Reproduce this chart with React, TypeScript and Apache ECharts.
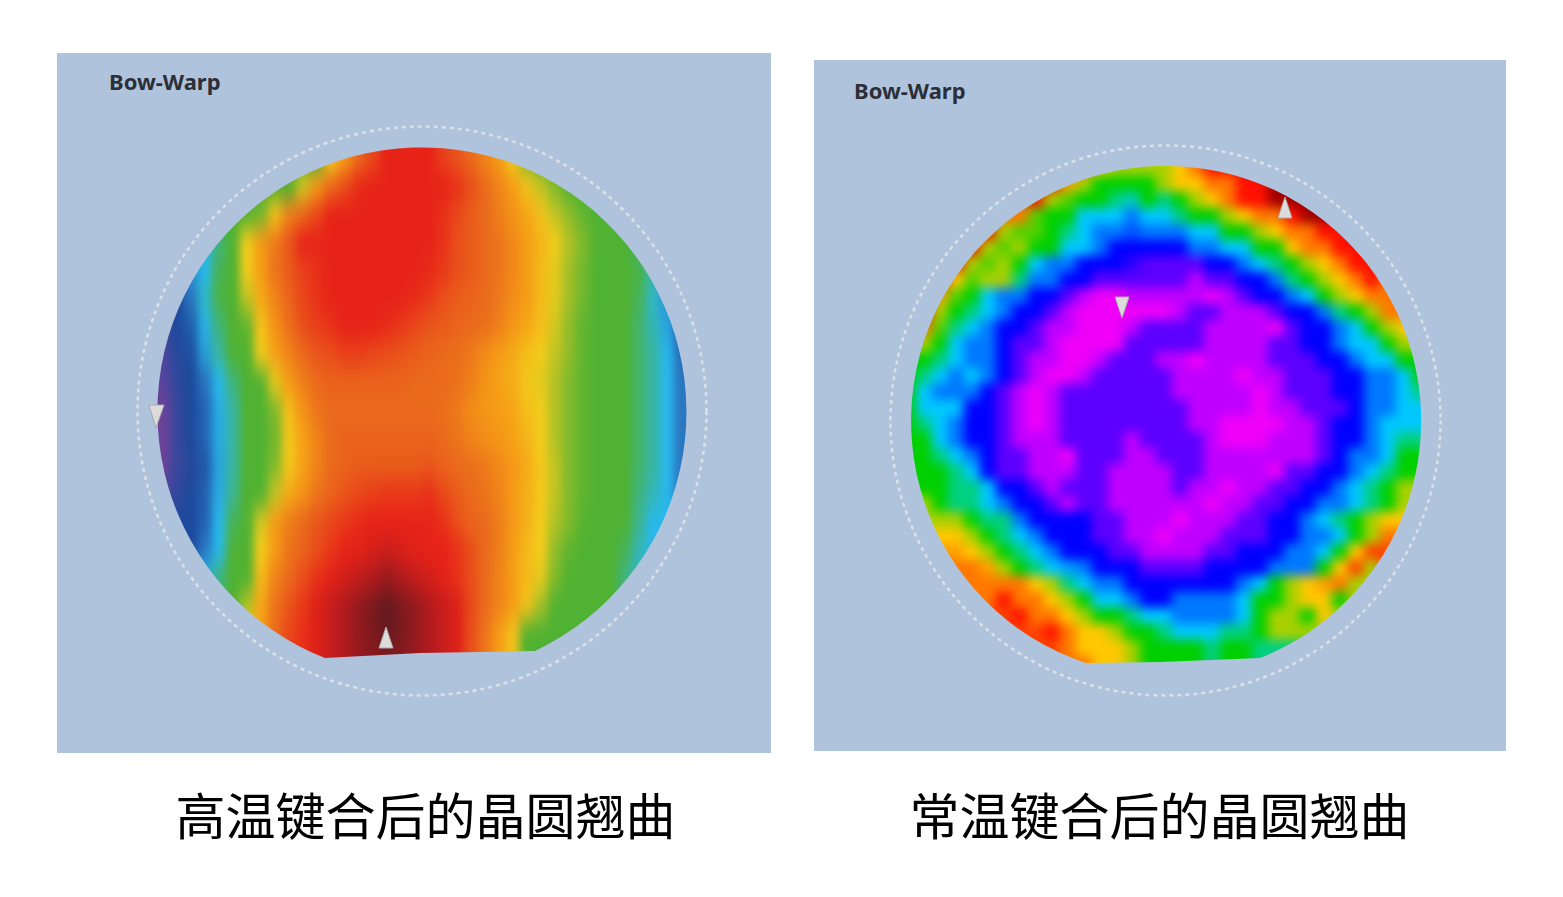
import React, { useEffect, useRef } from "react";
import * as echarts from "echarts";

const captionLeft = "高温键合后的晶圆翘曲";
const captionRight = "常温键合后的晶圆翘曲";
const panelLabel = "Bow-Warp";

// Warp level of the wafer after high-temperature bonding, read row by row
const hotRows: number[][] = [
  [4,4,4,4,4,4,4,4,4,4,4,5,6,7,8,8.5,9,9,9,9,8.6,8.3,8,7.5,7,6,5.3,5,5,5,5,4.7,4.7,4.5,4.5,4,4,4],
  [4,4,4,4,4,4,4,4,4,4.5,5.8,7,8,8.4,8.9,9,9,9,9,9,9,8.8,8.4,8,7.5,7,6.2,5.7,5.3,5,5,5,4.7,4.5,4.3,4,3.5,3],
  [3,3,3.5,3.5,4,4,4.3,5.2,6.2,7.5,8,8.5,9,9,9,9,9,9,9,9,8.8,8.5,8.2,8,7.6,7.2,6.8,6.2,5.7,5.4,5.1,5,4.8,4.5,4.1,3.5,3,3],
  [2,2,2.5,3,3.6,4.2,6,7,7.7,8.3,9,9,9,9,9,9,9,9,9,9,8.8,8.4,8.2,8,7.8,7.4,7,6.5,6,5.6,5.3,5,4.7,4.2,3.6,3,2.5,2],
  [1,1.5,2.4,3,3.8,4.4,6,7,7.8,8.2,8.6,8.8,9,9,9,9,9,9,9,8.9,8.7,8.4,8.2,8,7.8,7.4,7,6.4,5.9,5.5,5.2,5,4.8,4.4,3.9,3.4,2.6,2],
  [0.7,1,2,3.2,3.9,4.5,5.7,6.7,7.5,8.1,8.5,8.8,9,9,9,9,9,9,8.9,8.7,8.4,8.2,8.1,8,7.7,7.3,7,6.4,5.9,5.5,5.2,5,4.8,4.3,3.8,3.2,2.5,1.7],
  [0.6,1,1.4,2.9,3.6,4.4,5.1,6.2,7.2,7.9,8.4,8.6,8.8,9,9,9,8.9,8.7,8.5,8.3,8.2,8.1,8,7.9,7.6,7.1,6.8,6.3,5.8,5.4,5.1,5,4.7,4.2,3.7,3.3,2.7,1.5],
  [0.5,0.9,1.1,2.6,3.4,4,4.6,6,6.9,7.5,8,8.3,8.4,8.6,8.6,8.5,8.4,8.3,8.2,8.1,8,7.9,7.7,7.3,7,6.7,6.3,6,5.7,5.4,5.1,5,4.7,4.2,3.7,3.4,3,1.8],
  [0.4,0.8,1,1.9,3,3.6,4.2,5,5.9,7,7.6,8,8.1,8.1,8.1,8.1,8.1,8.1,8,8,8,7.9,7.6,7.2,6.9,6.6,6.1,5.9,5.6,5.3,5.1,5,4.7,4.2,3.7,3.4,3,2],
  [0.2,0.7,1,1.6,2.8,3.4,4,4.5,5.3,6.3,7.2,7.8,8,8,8,8,8,8,8,8,7.9,7.7,7.3,7.1,7,6.8,6.3,6,5.6,5.3,5.1,5,4.7,4.2,3.7,3.4,3,2],
  [0.2,0.7,1,1.6,2.8,3.4,4,4.5,5.2,6.1,6.9,7.5,8,8.1,8.1,8.1,8.1,8.1,8.1,8.1,8,7.8,7.5,7.3,7.1,6.9,6.5,6,5.6,5.3,5.1,5,4.7,4.2,3.7,3.4,3,2],
  [0.2,0.7,0.9,1.3,2.7,3.4,4,4.6,5.3,6.1,6.9,7.5,8,8.1,8.2,8.2,8.2,8.2,8.2,8.3,8.1,8,7.9,7.7,7.4,7.1,6.7,6.1,5.7,5.3,5.1,5,4.7,4.2,3.7,3.4,3,2],
  [0.5,0.8,1,1.5,2.8,3.5,4.2,4.8,5.7,6.7,7.2,7.8,8.1,8.3,8.5,8.6,8.7,8.7,8.7,8.8,8.5,8.2,8,7.8,7.5,7,6.6,6.1,5.7,5.3,5.1,5,4.6,4.1,3.6,3.3,3,2],
  [0.8,1,1,1.5,3,3.8,4.6,5.8,7,7.6,8,8.3,8.5,8.7,8.9,9,9,9,9,9,8.8,8.4,8.1,8,7.6,7.1,6.6,6,5.6,5.3,5.05,5,4.6,4,3.5,3,3,3],
  [1,1,1,2,3,4,5,6,7,7.8,8.1,8.4,8.7,9,9.1,9.3,9.5,9.3,9.1,9,9,8.8,8.4,8,7.6,7,6.4,6,5.4,5.1,4.9,4.6,4.3,3.8,3.3,3,3,3],
  [1,1,2,3,3.6,4,5,6.4,7.5,8,8.4,8.8,9.1,9.4,9.7,10,10.3,10,9.7,9.4,9.1,8.8,8.4,8,7.5,7,6.4,5.9,5.3,5,4.7,4.4,4,3.6,3.2,3,3,3],
  [3,3,3,3,3.6,4.5,5.6,6.8,7.8,8.3,8.7,9.2,9.6,10,10.4,10.7,11,10.7,10.4,10,9.6,9.2,8.5,8,7.5,7,6.2,5.5,5,4.6,4.2,4,4,3.6,3.2,3,3,3],
  [4,4,4,4,4.5,5,6,7,8,8.5,8.8,9.2,9.6,10,10.4,10.7,11,10.7,10.4,10,9.6,9.2,8.4,7.8,7,6.2,5,4.5,4.2,4,4,4,4,4,4,4,4,4],
  [4,4,4,4,4.5,5,6,7,8,8.5,8.8,9.2,9.6,10,10.3,10.5,10.6,10.5,10.3,10,9.6,9.2,8.4,7.8,7,6.2,5,4.5,4.2,4,4,4,4,4,4,4,4,4],
];

// Warp level of the wafer after room-temperature bonding, read row by row
const coldRows: number[][] = [
  [10,10,10,10,10,10,10,10,10,10,10,10,9,8,8,8,8,9,10,11,11,11,12,12,12,12,12,11,11,11,10,10,10],
  [10,10,10,10,10,10,10,10,10,11,9.5,8,7,7,7,7,8,9,9,10,10,11,11,12,12,12,12,11,11,11,10,10,10],
  [10,10,10,10,10,10,10,10,11,8,7.5,7,7,6,5.5,7,6,7,8,9,10,11,11,12,12,12,12,11,11,11,10,10,10],
  [10,10,10,10,10,10,10,10,7.5,7,7,5,5,5,4,5,5,6,7,7,8,9,10,10,11,12,12,11,11,11,10,10,10],
  [10,10,10,10,10,11,8,7.5,7.5,7,6,5,4,4,3.7,4,4,4,5,5,7,7,8,9,10,10,11,11,11,11,10,10,10],
  [10,10,10,10,11,8,7.5,8,7,7,5,5,4,3,3,3,3,3,4,4,5,5,7,7,9,10,10,11,11,11,10,10,10],
  [10,10,10,11,8,7.5,8,7,5,4,4,3,3,3,2.5,2,2,2,2,3,3,4,5,6,7,8,9,10,11,11,10,10,10],
  [10,10,11,9,7.5,8,8,6,4,4,3,3,2,2,2,2,2,2,1,2,2,3,3,4,6,7,8,9,10,11,10,10,10],
  [10,11,9.5,7.5,7,5,4,4,3,3,2,1,0,0,1,1,1,1,1,0,1,2,3,3,4,5,7,8,9,10,10,10,10],
  [10,11,8,7,6,5,4,3,3,2,1,0,0,0,0,0,0,1,2,2,1,1,1,2,3,3,4,6,7,8,10,10,10],
  [11,10,7.5,6,5,4,3,3,2,1,1,0,0,0,1,2,2,2,2,1,1,1,1,0,2,3,3,4,5,7,8,9,9],
  [10,8,7,5,4,4,3,2,2,1,0,0,0,0,2,2,2,2,2,1,1,1,1,2,2,3,3,4,5,5,7,8,8],
  [7,7,6,5,4,4,3,2,1,1,0,0,1,2,2,2,1,1,0,1,1,1,1,2,2,2,3,3,4,5,5,7,7],
  [7,6,5,4,5,4,3,2,1,0,0,1,2,2,2,2,2,1,1,1,1,0,1,1,2,2,2,3,3,4,4,5,7],
  [7,5,4,4,4,3,2,1,0,1,2,2,2,2,2,2,2,1,1,1,1,1,0,1,2,2,2,3,3,4,4,5,6],
  [7,5,5,5,3,3,2,1,0,1,2,2,2,2,2,2,2,2,1,1,1,1,0,1,1,2,2,2,3,4,4,5,5],
  [7,6,5,4,3,3,2,1,0,1,2,2,2,2,2,2,2,2,1,1,0,0,0,0,1,1,2,3,3,4,5,5,5],
  [7,7,5,4,3,3,2,1,1,1,2,2,2,2,1,2,2,2,2,1,0,0,0,1,1,1,2,3,3,4,5,6,6],
  [7,7,6,5,4,3,2,2,1,1,0,2,2,2,1,1,2,2,2,1,1,1,1,1,1,1,2,3,4,4,5,7,7],
  [7,7,7,6,5,3,2,2,1,1,1,2,2,1,1,1,1,2,2,1,1,1,1,0,2,2,3,3,4,5,6,7,7],
  [7,7,7,6,6,5,3,3,2,1,2,2,2,1,1,1,1,2,1,1,0,1,1,2,2,3,3,4,5,6,7,8,8],
  [8,8,7,6,6,5,4,3,3,2,1,2,2,1,1,1,1,1,1,0,1,1,2,2,3,3,4,4,5,6,7,8,8],
  [8,8,8,8,7,6,6,4,3,3,3,3,2,2,1,1,1,0,1,1,1,2,2,3,3,4,5,6,7,8,9,9,9],
  [9,9,9,9,8,7,6,5,4,3,3,3,2,2,1,1,0,1,1,1,2,2,2,3,3,4,4,5,7,8,10,10,10],
  [9.5,9.5,9.5,9.5,9,8,7,6,5,4,3,3,3,2,2,1,1,1,1,2,2,3,3,3,4,4,5,7,9,10.5,10.5,10,10],
  [10,10,10,10,10,9.5,8,7,6,5,4.5,4,3,3,3,2,2,2,2,3,3,3,3,4,4,4,7,9,10.5,8,10.5,10,10],
  [10,10,10,10,10,10,10,10,9,8,6,5,4,4,3,3,3,3,3,3,3,4,5,7,8,9,9.5,10,8,8,8,8,8],
  [10,10,10,10,10,10,11,10,10,9,8,7,5,5,4,3,3,4,4,4,4,5,7,7,8,9,9,7,8,8,8,8,8],
  [10.5,10.5,10.5,10.5,10.5,10.5,10.5,11,10,10,9,8,7,7,6,5,5,4,4,4,4,5,7,8,8,7,9,8,8,8,8,8,8],
  [10.5,10.5,10.5,10.5,10.5,10.5,10.5,10.5,10.5,11,10,9,9,8,7,7,6,5,5,5,6,6,7,8,8,8,8,8,8,8,8,8,8],
  [10.5,10.5,10.5,10.5,10.5,10.5,10.5,10.5,10.5,10.5,10,9,9,9,8,7,7,7,7,6,7,7,6,6,6,7,7,7,7,7,7,7,7],
  [10.5,10.5,10.5,10.5,10.5,10.5,10.5,10.5,10.5,10.5,10,10,9,9,8,7,7,7,7,6,7,7,6,6,6,7,7,7,7,7,7,7,7],
];

const hotColors = ["#80409a","#1c4a9c","#2a76c0","#28b8ec","#4fb232","#50b232","#f3cc1c","#f59c16","#ea6a1c","#e72318","#b01a1e","#641a1e"];
const coldColors = ["#f000f8","#c000ff","#5c00ff","#0000ff","#0078ff","#00c8ff","#00d080","#00d000","#a8d000","#ffc800","#ff7800","#ff1000","#a00000"];

// Repeats the edge cells two times outwards, under the panel mask, so that the blur has no pale rim
const padRows = (rows: number[][]) => {
  const wide = rows.map((r) => [r[0], r[0], ...r, r[r.length - 1], r[r.length - 1]]);
  return [wide[0], wide[0], ...wide, wide[wide.length - 1], wide[wide.length - 1]];
};
const toCells = (rows: number[][]) => rows.flatMap((r, y) => r.map((v, x) => [x, y, v]));
const indexList = (n: number) => Array.from({ length: n }, (_, i) => i);

const PANEL = "#b0c3dc";

function waferOption(source: number[][], colors: string[], left: number, top: number, cw: number, ch: number) {
  const rows = padRows(source);
  return {
    animation: false,
    grid: { left: left - 2 * cw, top: top - 2 * ch, width: rows[0].length * cw, height: rows.length * ch },
    xAxis: { type: "category", data: indexList(rows[0].length), show: false },
    yAxis: { type: "category", data: indexList(rows.length), inverse: true, show: false },
    visualMap: { type: "continuous", show: false, dimension: 2, min: 0, max: colors.length - 1, inRange: { color: colors } },
    series: [{ type: "heatmap", data: toCells(rows), itemStyle: { borderWidth: 0 } }],
  };
}

export default function App() {
  const hotRef = useRef<HTMLDivElement>(null);
  const coldRef = useRef<HTMLDivElement>(null);
  const topRef = useRef<HTMLDivElement>(null);

  useEffect(() => {
    document.body.style.margin = "0";
    document.body.style.background = "#fff";
    const hot = echarts.init(hotRef.current!, null, { renderer: "svg" });
    const cold = echarts.init(coldRef.current!, null, { renderer: "svg" });
    const top = echarts.init(topRef.current!, null, { renderer: "svg" });

    hot.setOption(waferOption(hotRows, hotColors, 156, 144, 14, 28));
    cold.setOption(waferOption(coldRows, coldColors, 900, 160, 16, 16));

    echarts.graphic.registerShape(
      "panelHot",
      echarts.graphic.extendPath(
        "M57 53 H771 V753 H57 Z M325 658 L420 653 L535 651 A264.5 264.5 0 1 0 325 658 Z",
        {}
      )
    );
    echarts.graphic.registerShape(
      "panelCold",
      echarts.graphic.extendPath(
        "M814 60 H1506 V751 H814 Z M1086 663 L1160 662 L1260 658 A255 255 0 1 0 1086 663 Z",
        {}
      )
    );

    const dashed = (cx: number, cy: number, r: number) => ({
      type: "circle",
      shape: { cx, cy, r },
      style: { fill: "none", stroke: "#dbe1e4", lineWidth: 2.5, lineDash: [4, 4] },
    });
    const marker = (points: number[][]) => ({
      type: "polygon",
      shape: { points },
      style: { fill: "#dcdcdc", stroke: "#a9a9ad", lineWidth: 1 },
    });
    const label = (x: number, y: number) => ({
      type: "text",
      x,
      y,
      style: {
        text: panelLabel,
        fill: "#2c2f38",
        font: 'bold 22px "Noto Sans", sans-serif',
        textAlign: "left",
        textVerticalAlign: "middle",
        shadowBlur: 2,
        shadowColor: "rgba(40,50,80,0.6)",
      },
    });
    const caption = (x: number, y: number, text: string) => ({
      type: "text",
      x,
      y,
      style: {
        text,
        fill: "#000",
        font: '50px "Noto Sans CJK SC", sans-serif',
        textAlign: "center",
        textVerticalAlign: "middle",
      },
    });

    top.setOption({
      animation: false,
      graphic: [
        { type: "panelHot", x: 0, y: 0, style: { fill: PANEL } },
        { type: "panelCold", x: 0, y: 0, style: { fill: PANEL } },
        dashed(422, 411, 284.5),
        dashed(1165.5, 420.5, 275),
        marker([[149, 405], [164, 405], [156, 428]]),
        marker([[379, 648], [393, 648], [386, 627]]),
        marker([[1278, 218], [1292, 218], [1285, 197]]),
        marker([[1115, 297], [1129, 297], [1122, 318]]),
        label(109, 81),
        label(854, 90),
        caption(425.5, 813, captionLeft),
        caption(1159.5, 813, captionRight),
      ],
    });

    return () => {
      hot.dispose();
      cold.dispose();
      top.dispose();
    };
  }, []);

  const layer: React.CSSProperties = { position: "absolute", left: 0, top: 0, width: 1563, height: 897 };
  return (
    <div style={{ position: "relative", width: 1563, height: 897, overflow: "hidden", background: "#fff" }}>
      <svg width="0" height="0" style={{ position: "absolute" }}>
        <defs>
          <filter id="hotBlur" x="0" y="0" width="100%" height="100%" colorInterpolationFilters="sRGB">
            <feGaussianBlur stdDeviation="4 11" />
          </filter>
          <filter id="coldBlur" x="0" y="0" width="100%" height="100%" colorInterpolationFilters="sRGB">
            <feGaussianBlur stdDeviation="5.5" />
          </filter>
        </defs>
      </svg>
      <div ref={hotRef} style={{ ...layer, filter: "url(#hotBlur)" }} />
      <div ref={coldRef} style={{ ...layer, filter: "url(#coldBlur)" }} />
      <div ref={topRef} style={layer} />
    </div>
  );
}
